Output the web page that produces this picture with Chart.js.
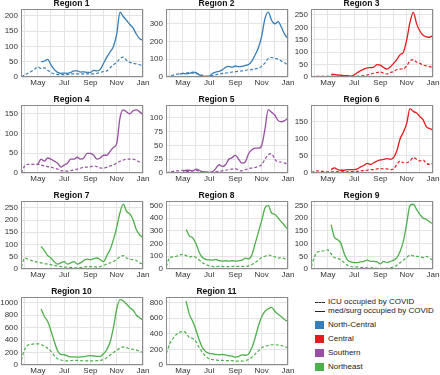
<!DOCTYPE html>
<html>
<head>
<meta charset="utf-8">
<script src="https://cdn.jsdelivr.net/npm/chart.js@4.4.1/dist/chart.umd.min.js"></script>
<style>
  body { margin: 0; background: #fff; width: 440px; height: 375px; position: relative; overflow: hidden;
         font-family: "Liberation Sans", Arial, sans-serif; }
  .panel { position: absolute; }
  .legend { position: absolute; left: 315px; top: 296px; font-size: 8px; color: #222; }
  .legend .row { position: absolute; left: 0; white-space: nowrap; height: 10px; line-height: 10px; }
  .legend .ln { position: absolute; left: 0; top: 5px; width: 10px; border-top: 1.3px solid #222; }
  .legend .ln.dash { border-top-style: dashed; }
  .legend .sw { position: absolute; left: 0; top: 1px; width: 9px; height: 8px; }
  .legend .tx { position: absolute; left: 13px; top: 0; }
</style>
</head>
<body>
<div class="legend">
  <div class="row" style="top:1px"><span class="ln dash"></span><span class="tx">ICU occupied by COVID</span></div>
  <div class="row" style="top:10px"><span class="ln"></span><span class="tx">med/surg occupied by COVID</span></div>
  <div class="row" style="top:24px"><span class="sw" style="background:#377eb8"></span><span class="tx">North-Central</span></div>
  <div class="row" style="top:38px"><span class="sw" style="background:#e41a1c"></span><span class="tx">Central</span></div>
  <div class="row" style="top:52px"><span class="sw" style="background:#984ea3"></span><span class="tx">Southern</span></div>
  <div class="row" style="top:66px"><span class="sw" style="background:#4daf4a"></span><span class="tx">Northeast</span></div>
</div>
<script>
// x position in months (0 = Jan 1 2020), roughly weekly samples
const xs = [2.75, 3, 3.25, 3.5, 3.75, 4, 4.25, 4.5, 4.75, 5, 5.25, 5.5, 5.75, 6, 6.25, 6.5, 6.75, 7, 7.25,
            7.5, 7.75, 8, 8.25, 8.5, 8.75, 9, 9.25, 9.5, 9.75, 10, 10.25, 10.5, 10.75, 11, 11.25, 11.5, 11.75, 12];
const monthTicks = [3, 4, 5, 6, 7, 8, 9, 10, 11, 12];
const monthLabels = ['', 'May', '', 'Jul', '', 'Sep', '', 'Nov', '', 'Jan'];

const regionNames = ['Region 1', 'Region 2', 'Region 3', 'Region 4', 'Region 5', 'Region 6',
                     'Region 7', 'Region 8', 'Region 9', 'Region 10', 'Region 11'];
const regionGroup = ['North-Central', 'North-Central', 'Central', 'Southern', 'Southern', 'Central',
                     'Northeast', 'Northeast', 'Northeast', 'Northeast', 'Northeast'];
const yMax  = [222, 382, 273, 172, 123, 198, 277, 533, 267, 1090, 870];
const yStep = [50, 100, 50, 50, 25, 50, 50, 100, 50, 200, 200];

const _ = null;
const icu1 = [0,7,12,18,25,33,28,30,22,15,10,8,8,8,8,10,10,10,10,10,10,10,10,12,15,18,20,30,40,48,60,65,55,48,45,43,40,36];
const med1 = [_,_,_,_,_,_,50,52,58,40,25,15,12,13,12,15,20,20,16,17,15,15,22,20,25,45,65,82,100,140,212,198,185,172,160,140,125,120];
const icu2 = [0,5,10,15,18,20,22,25,22,20,15,10,5,4,8,12,18,20,22,25,28,30,32,35,38,40,42,45,50,60,80,105,110,105,100,90,80,65];
const med2 = [_,_,_,_,15,20,18,20,28,25,12,5,3,5,20,28,32,40,55,60,55,62,58,60,65,70,90,125,165,230,330,365,320,300,312,280,240,215];
const icu3 = [0,3,3,3,3,3,3,2,2,2,2,2,2,3,3,4,5,8,12,15,18,20,15,12,18,22,30,32,33,45,65,70,60,55,48,45,42,38];
const med3 = [_,_,_,_,_,_,10,10,8,7,5,5,3,8,18,25,32,37,38,40,50,48,38,32,40,55,70,90,100,150,220,260,215,185,168,162,160,168];
const icu4 = [0,18,22,22,22,22,20,18,16,15,12,10,6,5,5,6,8,10,12,15,15,16,18,16,13,12,15,18,20,25,30,33,35,35,35,32,28,25];
const med4 = [_,_,_,_,_,22,35,30,38,35,30,25,15,20,25,35,35,40,35,38,50,50,45,35,38,45,45,55,65,75,140,160,155,150,158,160,155,148];
const icu5 = [0,2,3,4,4,5,3,3,4,5,3,2,1,1,1,2,3,4,5,6,7,8,5,4,6,8,9,10,12,15,25,33,35,25,20,20,18,15];
const med5 = [_,_,_,_,_,3,5,5,4,7,5,2,2,1,2,8,15,12,15,25,28,32,25,18,20,35,42,45,45,50,80,115,110,105,95,93,95,100];
const icu6 = [0,5,6,5,4,3,3,3,4,3,4,3,4,4,5,6,7,8,10,10,12,13,12,12,10,12,25,35,30,30,35,45,40,35,38,28,25,28];
const med6 = [_,_,_,_,_,_,10,15,10,8,8,10,10,10,12,18,22,28,25,30,35,38,40,42,40,45,65,100,120,145,188,180,175,165,155,135,130,125];
const icu7 = [10,45,40,35,30,28,25,22,20,18,15,12,10,8,7,6,5,5,6,8,10,10,10,8,10,15,20,25,30,40,50,55,45,40,38,35,25,20];
const med7 = [_,_,_,_,_,_,92,75,55,45,30,20,25,30,20,25,30,20,25,35,40,38,42,45,38,30,55,80,120,170,230,265,235,225,200,160,140,128];
const icu8 = [20,90,95,100,110,115,105,95,100,90,70,50,35,25,20,18,20,20,18,18,20,20,20,20,22,25,35,50,70,90,100,110,105,95,85,90,80,70];
const med8 = [_,_,_,_,_,_,310,260,245,200,130,90,75,72,70,75,65,62,65,62,65,62,65,70,85,80,110,200,290,380,480,500,440,430,400,370,340,310];
const icu9 = [10,50,68,70,72,75,60,45,42,35,25,15,10,8,8,6,5,5,5,5,3,2,3,3,5,8,15,25,35,45,55,52,50,48,45,50,42,35];
const med9 = [_,_,_,_,_,_,175,125,115,100,60,35,28,25,25,28,30,35,30,30,28,20,30,25,30,35,45,70,110,180,250,255,235,215,200,195,185,178];
const icu10 = [80,250,320,330,340,340,330,300,270,220,150,100,80,70,65,70,75,75,70,65,65,65,65,70,75,90,120,160,200,240,270,290,280,260,250,240,220,200];
const med10 = [_,_,_,_,_,_,900,780,700,550,380,230,170,165,145,130,130,125,130,135,145,150,145,140,140,180,250,370,600,900,1050,1030,980,920,880,800,760,720];
const icu11 = [150,270,340,390,420,430,410,350,340,300,220,160,110,80,70,65,60,60,55,55,55,50,50,50,55,70,100,140,180,220,240,250,260,260,255,250,235,220];
const med11 = [_,_,_,_,_,_,820,650,560,450,320,220,170,150,145,135,130,135,130,120,115,100,110,130,125,140,220,350,500,620,690,720,740,690,650,620,580,560];

const icuSeries = [icu1, icu2, icu3, icu4, icu5, icu6, icu7, icu8, icu9, icu10, icu11];
const medSeries = [med1, med2, med3, med4, med5, med6, med7, med8, med9, med10, med11];

function getColor(group) {
    if (group === 'North-Central') return '#377eb8';
    if (group === 'Central') return '#e41a1c';
    if (group === 'Southern') return '#984ea3';
    return '#4daf4a';
}

const FONT = '"Liberation Sans", Arial, sans-serif';

const frame = {
    id: 'frame',
    afterDraw(chart) {
        const { ctx, chartArea: a } = chart;
        ctx.save();
        ctx.strokeStyle = '#8c8c8c';
        ctx.lineWidth = 1;
        ctx.strokeRect(Math.round(a.left) + 0.5, Math.round(a.top) + 0.5,
                       Math.round(a.right - a.left) - 1, Math.round(a.bottom - a.top) - 1);
        ctx.restore();
    }
};

function toPoints(values) {
    return xs.map((x, i) => ({ x: x, y: values[i] }));
}

regionNames.forEach((name, i) => {
    const col = i % 3, row = Math.floor(i / 3);
    const canvas = document.createElement('canvas');
    canvas.className = 'panel';
    canvas.width = 151;
    canvas.height = 90;
    canvas.style.left = (col * 145) + 'px';
    canvas.style.top = (row * 96 - 1) + 'px';
    document.body.appendChild(canvas);

    const color = getColor(regionGroup[i]);

    new Chart(canvas.getContext('2d'), {
        type: 'line',
        data: {
            datasets: [
                { data: toPoints(icuSeries[i]), borderColor: color, borderDash: [3, 2], borderWidth: 1.2 },
                { data: toPoints(medSeries[i]), borderColor: color, borderWidth: 1.3 }
            ]
        },
        options: {
            responsive: false,
            animation: false,
            layout: { padding: { left: 0, right: 8, top: 0, bottom: 0 } },
            elements: { point: { radius: 0 }, line: { cubicInterpolationMode: 'monotone' } },
            plugins: {
                legend: { display: false },
                tooltip: { enabled: false },
                title: {
                    display: true, text: name, color: '#111',
                    font: { family: FONT, size: 8.5, weight: 'bold' },
                    padding: { top: 0, bottom: 0 }
                }
            },
            scales: {
                x: {
                    type: 'linear', min: 2.72, max: 12,
                    afterBuildTicks: s => { s.ticks = monthTicks.map(v => ({ value: v })); },
                    afterFit: s => { s.height = 12; },
                    ticks: {
                        autoSkip: false, maxRotation: 0, padding: 1, color: '#333',
                        font: { family: FONT, size: 8 },
                        callback: (v, idx) => monthLabels[idx]
                    },
                    grid: { color: '#e4e4e4', drawTicks: false },
                    border: { display: false }
                },
                y: {
                    min: 0, max: yMax[i],
                    afterBuildTicks: s => {
                        const t = [];
                        for (let v = 0; v <= yMax[i]; v += yStep[i]) t.push({ value: v });
                        s.ticks = t;
                    },
                    afterFit: s => { s.width = 21; },
                    ticks: {
                        padding: 3, color: '#333',
                        font: { family: FONT, size: 8 },
                        callback: v => String(v)
                    },
                    grid: { color: '#e4e4e4', drawTicks: false },
                    border: { display: false }
                }
            }
        },
        plugins: [frame]
    });
});
</script>
</body>
</html>
